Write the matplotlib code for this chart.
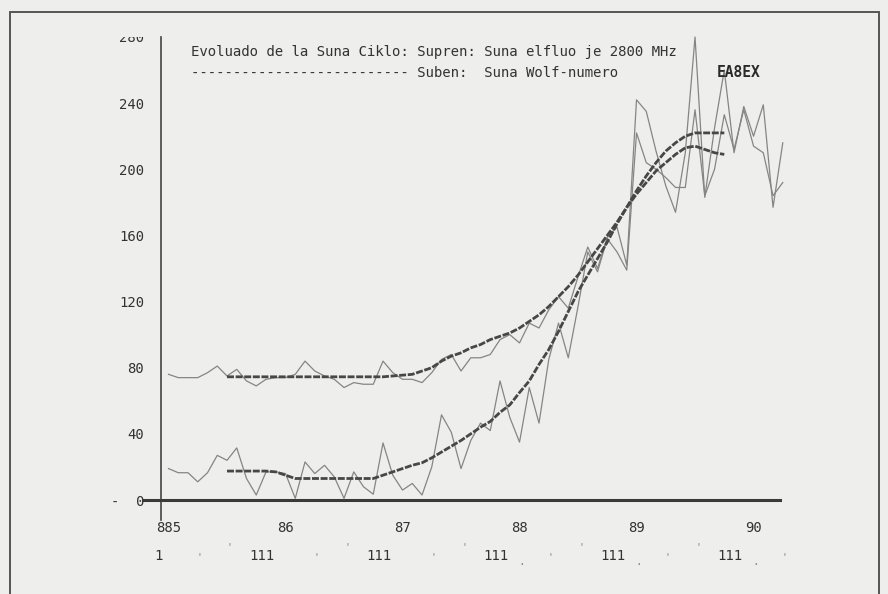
import matplotlib
matplotlib.use("Agg")
import matplotlib.pyplot as plt
from matplotlib.patches import Rectangle
import numpy as np

# monthly means, Dec 1984 .. Mar 1990
flux_monthly = [76, 74, 74, 74, 77, 81, 75, 79, 72, 69,
                73, 74, 74, 76, 84, 78, 75, 73, 68, 71,
                70, 70, 84, 77, 73, 73, 71, 77, 85, 88,
                78, 86, 86, 88, 97, 100, 95, 107, 104, 115,
                123, 116, 135, 153, 140, 159, 165, 142, 242, 235,
                211, 190, 174, 210, 280, 183, 225, 260, 210, 238,
                220, 239, 177, 216]
wolf_monthly = [19, 16.5, 16.5, 11, 16.5, 27, 24, 31.5, 13, 3,
                17, 17, 16, 1, 23, 16, 21, 14, 1, 17,
                8, 3.5, 34.5, 15, 6, 10, 3, 20, 51.5, 41,
                19, 36, 46.5, 42, 72, 50, 35, 68, 46.5, 85,
                107, 86, 117, 150, 138, 158, 150, 139, 222, 204,
                200, 195, 189, 189, 236, 184, 200, 233, 212, 236,
                214, 210, 184, 192]

# 13-month running means, Jun 1985 .. Sep 1989
smooth_start = 6
flux_smoothed = [74.5] * 17 + [75, 75.5, 76, 78, 80, 84, 87, 89, 92, 94,
                               97, 99, 101, 104, 108, 112, 117, 123, 129, 136,
                               144, 152, 160, 168, 177, 185, 192, 199, 204, 209,
                               213, 214, 212, 210, 209]
wolf_smoothed = [17.5] * 5 + [17, 15] + [13] * 9 + [15, 17, 19, 21, 22.5, 25.5, 29, 32.5, 36, 40,
                                                   44, 47.5, 53, 57.5, 65, 72, 82, 91, 102, 114,
                                                   126, 136, 146, 156, 167, 177, 187, 196, 204, 211,
                                                   216, 220] + [222] * 4

year_labels = ["885", "86", "87", "88", "89", "90"]
ytick_values = [0, 40, 80, 120, 160, 200, 240, 280]
ytick_labels = ["-  0", "40", "80", "120", "160", "200", "240", "280"]

W, H = 888, 594
paper = "#eeeeec"
ink = "#333333"
mono = "DejaVu Sans Mono"

fig = plt.figure(figsize=(W / 100, H / 100), dpi=100, facecolor=paper)

# outer frame
fig.patches.append(Rectangle((10 / W, -0.05), 869 / W, 1.05 - 12 / H,
                             transform=fig.transFigure, fill=False,
                             edgecolor="#555555", lw=1.4))

ax = fig.add_axes([161 / W, 94 / H, 629 / W, 463 / H])
ax.set_facecolor("none")
ax.set_xlim(-0.77, 63.74)
ax.set_ylim(0, 280)
for s in ax.spines.values():
    s.set_visible(False)

months = np.arange(len(flux_monthly))
smooth_months = np.arange(smooth_start, smooth_start + len(flux_smoothed))

ax.plot(months, flux_monthly, color="#858585", lw=0.9, clip_on=False)
ax.plot(months, wolf_monthly, color="#858585", lw=0.9, clip_on=False)
ax.plot(smooth_months, flux_smoothed, color="#474747", lw=2.0,
        ls=(0, (2.5, 0.6)))
ax.plot(smooth_months, wolf_smoothed, color="#474747", lw=2.0,
        ls=(0, (2.5, 0.6)))

# axis lines
ax.plot([-0.77, -0.77], [-12, 280], color="#444444", lw=1.2, clip_on=False)
ax.plot([-2.6, 62.7], [0, 0], color="#3a3a3a", lw=2.2, clip_on=False)

ax.set_yticks(ytick_values, ytick_labels)
ax.tick_params(axis="y", length=0, pad=12, labelsize=10, labelcolor=ink)
ax.set_xticks(np.arange(0, 61, 12), year_labels)
ax.tick_params(axis="x", length=0, pad=15, labelsize=10, labelcolor=ink)
for lab in ax.get_xticklabels() + ax.get_yticklabels():
    lab.set_family(mono)

# paper strip hiding the upper half of the top tick label
fig.patches.append(Rectangle((90 / W, 1 - 37 / H), 65 / W, 20 / H,
                             transform=fig.transFigure, facecolor=paper,
                             edgecolor="none", zorder=5))

# second row of month marks
xt = ax.get_xaxis_transform()
ax.text(-1.0, -0.121, "1", transform=xt, ha="center", va="center",
        fontsize=10, family=mono, color=ink)
for k in range(5):
    ax.text(12 * k + 9.6, -0.121, "111", transform=xt, ha="center",
            va="center", fontsize=10, family=mono, color=ink)
for k in range(6):
    ax.text(12 * k + 3.2, -0.123, "'", transform=xt, ha="center",
            va="center", fontsize=7, family=mono, color="#888888")
for k in range(5):
    ax.text(12 * k + 6.3, -0.101, "'", transform=xt, ha="center",
            va="center", fontsize=7, family=mono, color="#888888")
for k in range(3, 6):
    ax.text(12 * k + 0.2, -0.134, ".", transform=xt, ha="center",
            va="center", fontsize=8, family=mono, color="#888888")

# heading
fig.text(191 / W, 1 - 56 / H,
         "Evoluado de la Suna Ciklo: Supren: Suna elfluo je 2800 MHz",
         fontsize=10.1, family=mono, color=ink, va="baseline")
fig.text(191 / W, 1 - 77 / H,
         "-" * 26 + " Suben:  Suna Wolf-numero",
         fontsize=10.1, family=mono, color=ink, va="baseline")
fig.text(717 / W, 1 - 77 / H, "EA8EX", fontsize=10.5, family=mono,
         fontweight="bold", color="#2a2a2a", va="baseline")

fig.savefig("out.png", dpi=100, facecolor=paper)
